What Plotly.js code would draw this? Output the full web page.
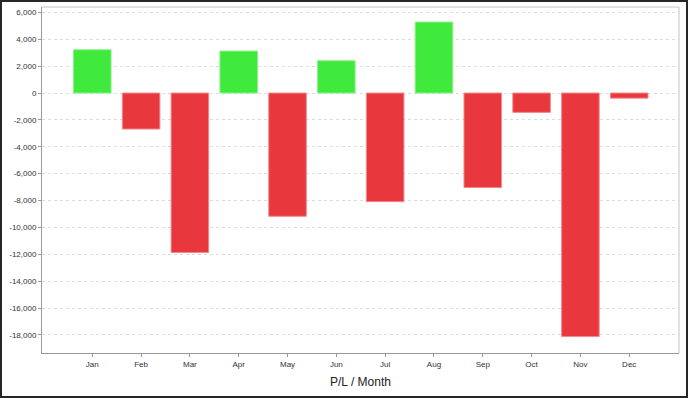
<!DOCTYPE html>
<html>
<head>
<meta charset="utf-8">
<script src="https://cdn.plot.ly/plotly-3.0.1.min.js"></script>
<style>
html,body{margin:0;padding:0;background:#fff;}
#wrap{position:relative;width:688px;height:398px;}
#chart{position:absolute;left:0;top:0;width:688px;height:398px;}
#frame{position:absolute;left:0;top:0;width:688px;height:398px;box-sizing:border-box;border:2px solid #262626;pointer-events:none;}
</style>
</head>
<body>
<div id="wrap"><div id="chart"></div><div id="frame"></div></div>
<script>
// Data
var months = ["Jan","Feb","Mar","Apr","May","Jun","Jul","Aug","Sep","Oct","Nov","Dec"];
var pl = [3220, -2680, -11870, 3120, -9170, 2400, -8080, 5280, -7030, -1440, -18120, -380];
var yTickVals = [6000,4000,2000,0,-2000,-4000,-6000,-8000,-10000,-12000,-14000,-16000,-18000];
var yTickText = yTickVals.map(function(v){return v.toLocaleString('en-US');});

var xIdx = months.map(function(m,i){return i;});
var fill = pl.map(function(v){return v >= 0 ? '#40ea3c' : '#e8383d';});
var edge = pl.map(function(v){return v >= 0 ? '#8cf08a' : '#f28a8d';});

var trace = {
  type: 'bar',
  x: xIdx,
  y: pl,
  width: 0.77,
  marker: {color: fill, line: {color: edge, width: 1}},
  hoverinfo: 'none'
};

var layout = {
  width: 688, height: 398,
  margin: {l: 42, r: 9, t: 7, b: 45},
  paper_bgcolor: '#ffffff',
  plot_bgcolor: '#ffffff',
  showlegend: false,
  font: {family: 'Liberation Sans, Arial, sans-serif', color: '#444'},
  xaxis: {
    range: [-1.03, 12.02],
    tickvals: xIdx,
    ticktext: months,
    tickfont: {size: 8, color: '#333'},
    ticks: 'outside', ticklen: 3, tickcolor: '#999', tickwidth: 1,
    showgrid: false, zeroline: false,
    showline: true, linecolor: '#999', linewidth: 1,
    title: {text: 'P/L / Month', font: {size: 12, color: '#222'}, standoff: 10}
  },
  yaxis: {
    range: [-19340, 6400],
    tickvals: yTickVals,
    ticktext: yTickText,
    tickfont: {size: 8, color: '#333'},
    ticks: 'outside', ticklen: 3, tickcolor: '#999', tickwidth: 1,
    showgrid: true, gridcolor: '#dcdcdc', griddash: '3px,3px', gridwidth: 1,
    zeroline: false,
    showline: true, linecolor: '#999', linewidth: 1
  },
  shapes: [
    {type: 'line', xref: 'paper', yref: 'paper', x0: 0, x1: 1, y0: 1, y1: 1, line: {color: '#c4c4c4', width: 1}},
    {type: 'line', xref: 'paper', yref: 'paper', x0: 1, x1: 1, y0: 0, y1: 1, line: {color: '#c4c4c4', width: 1}}
  ]
};

Plotly.newPlot('chart', [trace], layout, {staticPlot: true, displayModeBar: false});
</script>
</body>
</html>
